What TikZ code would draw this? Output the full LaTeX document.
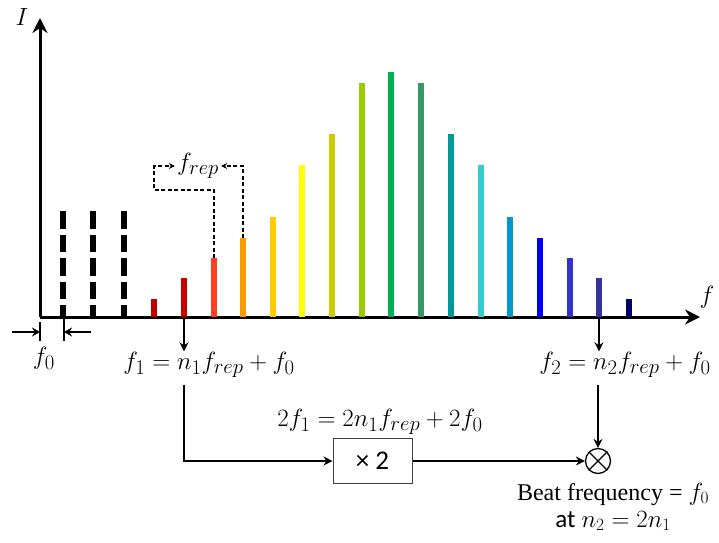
\documentclass[tikz,border=0pt]{standalone}
\usepackage{fontspec}
\setmainfont{Liberation Serif}
\newfontfamily\calibri{Carlito}
\usetikzlibrary{arrows.meta}

\definecolor{comb0}{HTML}{C00000}
\definecolor{comb1}{HTML}{C80000}
\definecolor{comb2}{HTML}{FF4020}
\definecolor{comb3}{HTML}{FF9900}
\definecolor{comb4}{HTML}{FFCC00}
\definecolor{comb5}{HTML}{FFFF00}
\definecolor{comb6}{HTML}{CCCC00}
\definecolor{comb7}{HTML}{99CC00}
\definecolor{comb8}{HTML}{00B050}
\definecolor{comb9}{HTML}{339966}
\definecolor{comb10}{HTML}{009999}
\definecolor{comb11}{HTML}{33CCCC}
\definecolor{comb12}{HTML}{0099CC}
\definecolor{comb13}{HTML}{0000FF}
\definecolor{comb14}{HTML}{3333CC}
\definecolor{comb15}{HTML}{333399}
\definecolor{comb16}{HTML}{000066}

\begin{document}
\begin{tikzpicture}[x=1pt, y=-1pt, font=\fontsize{28}{32}\selectfont,
    axis/.style={line width=3pt, -{Stealth[length=15pt, width=15pt, inset=5pt]}},
    link/.style={line width=1.3pt, -{Stealth[length=9pt, width=9pt, inset=3pt]}},
    repline/.style={line width=1.2pt, dash pattern=on 4pt off 2.5pt,
                    -{Stealth[length=6pt, width=6pt]}}]
  \useasboundingbox (0,0) rectangle (719,542);
  % Frequency comb: black dashed lines are the f0 offset teeth,
  % coloured lines are the comb itself; f1 is doubled and beaten against f2.

  % --- axes ---
  \coordinate (O) at (40,317);
  \draw[axis] (O) -- (40,18);
  \draw[axis] (O) -- (700,317);
  \node (ilabel) at (22,17) {$I$};
  \node (flabel) at (707,297) {$f$};

  % --- offset teeth (dashed) ---
  \foreach \x in {63,93,124}
    \draw[line width=6pt, dash pattern=on 17.5pt off 6pt] (\x,211) -- (\x,317);

  % --- comb lines, rising then falling ---
  \foreach \i/\x/\top in {0/154/299, 1/184/278, 2/214/258, 3/243/238, 4/273/217,
                          5/302/165, 6/332/134, 7/362/83, 8/391/72, 9/421/83,
                          10/451/134, 11/481/165, 12/510/217, 13/540/238,
                          14/570/258, 15/599/278, 16/629/299}
    \draw[line width=6pt, comb\i] (\x,317) -- (\x,\top) coordinate (b\i);

  % --- spacing f_rep between two teeth ---
  \node[inner sep=2pt] (frep) at (198,166) {$f_{rep}$};
  \draw[repline] (b2) -- (214,190) -- (154,190) |- (frep.west);
  \draw[repline] (b3) |- (frep.east);

  % --- offset f0 at the origin ---
  \coordinate (t0) at (40,332);
  \coordinate (t1) at (64,332);
  \draw[line width=2pt] (40,322) -- (40,341);
  \draw[line width=2pt] (64,319) -- (64,341);
  \draw[line width=2pt, -{Stealth[length=8pt, width=9pt]}] (12,332) -- (t0);
  \draw[line width=2pt, -{Stealth[length=8pt, width=9pt]}] (91,332) -- (t1);
  \node (f0) at (44,358) {$f_0$};

  % --- the two lines that are compared ---
  \node[inner sep=1pt] (f1) at (209,365) {$f_1 = n_1 f_{rep} + f_0$};
  \node[inner sep=1pt] (f2) at (625,365) {$f_2 = n_2 f_{rep} + f_0$};
  \draw[link] (b1 |- O) -- (b1 |- f1.north);
  \draw[link] (b15 |- O) -- (b15 |- f2.north);

  % --- doubling and beat ---
  \node[draw=black!75, line width=1pt, minimum width=79, minimum height=45,
        font=\calibri\fontsize{27}{31}\selectfont] (double) at (372.5,461) {× 2};
  \node (f1x2) at (380,422) {$2f_1 = 2n_1 f_{rep} + 2f_0$};
  \node[circle, draw, line width=1.3pt, minimum size=25, inner sep=0] (mix)
    at (598,461) {};
  \draw[line width=1.3pt] (mix.north west) -- (mix.south east)
                          (mix.north east) -- (mix.south west);
  \draw[link] (b1 |- f1.south) ++(0,6) |- (double.west);
  \draw[link] (mix |- f2.south) ++(0,6) -- (mix.north);

  \draw[link] (double.east) -- (mix.west);
  \node[font=\fontsize{24}{28}\selectfont] (beat) at (613,494) {Beat frequency = $f_0$};
  \node[font=\fontsize{25}{29}\selectfont] (cond) at (613,521)
    {{\calibri at} $n_2 = 2n_1$};
\end{tikzpicture}
\end{document}
